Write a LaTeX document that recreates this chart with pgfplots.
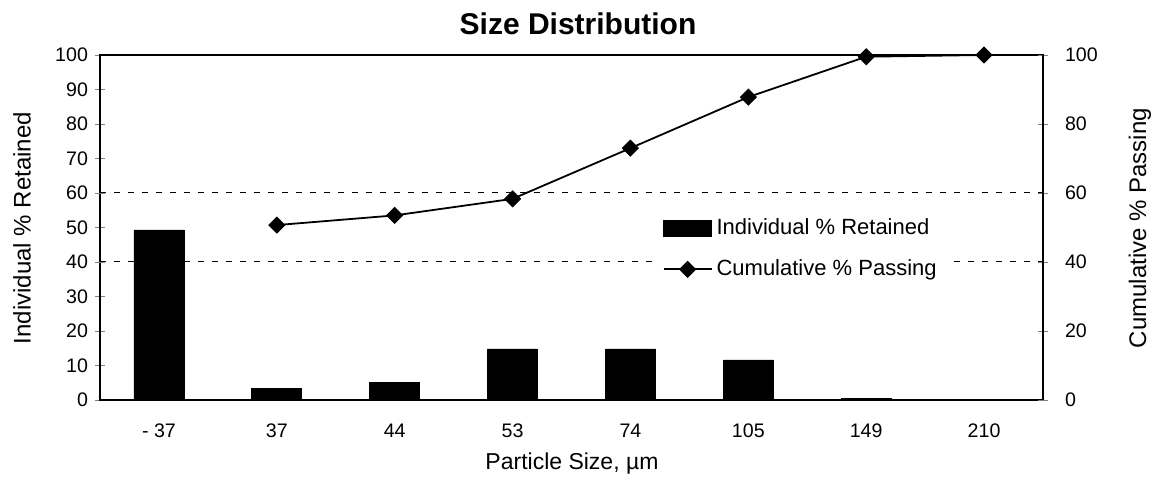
\documentclass[border=0pt]{standalone}
\usepackage{fontspec}
\setmainfont{Liberation Sans}
\usepackage{pgfplots}
\pgfplotsset{compat=1.18}
\pgfplotsset{my line legend/.style={legend image code/.code={\draw[mark repeat=2, mark phase=2, ##1] plot coordinates {(0pt,0pt) (12pt,0pt) (24pt,0pt)};}}}
\begin{document}
\begin{tikzpicture}
\useasboundingbox (-50pt,-45pt) rectangle (527.5pt,200pt);
\begin{axis}[
  scale only axis, width=471.5pt, height=172.5pt,
  at={(0pt,0pt)}, anchor=south west,
  xmin=-0.5, xmax=7.5, ymin=0, ymax=100,
  xtick={0,...,7},
  xticklabels={- 37,37,44,53,74,105,149,210},
  ytick={0,10,...,100},
  ytick pos=left, xtick pos=bottom,
  major x tick style={draw=none},
  tick align=center, major tick length=5pt,
  axis line style={line width=0.8pt},
  /pgf/number format/assume math mode=true,
  tick label style={font=\fontsize{9.8}{11}\selectfont},
  xticklabel style={yshift=-6pt},
  extra y ticks={40,60}, extra y tick labels={},
  extra y tick style={grid=major, major grid style={black, line width=0.5pt, dash pattern=on 3pt off 4pt}},
  legend style={at={(0.59,0.555)}, anchor=north west, draw=none, fill=white,
    font=\fontsize{11}{13}\selectfont, row sep=7pt, inner sep=3pt},
  legend cell align=left,
]
\addplot[ybar, bar width=25pt, fill=black, draw=black,
  legend image code/.code={\fill[black] (0pt,-4pt) rectangle (24pt,4pt);}]
  coordinates {(0,49.3) (1,3.4) (2,5) (3,14.8) (4,14.8) (5,11.6) (6,0.5) (7,0)};
\addlegendentry{Individual \% Retained}
\addplot[black, line width=0.9pt, mark=square*, mark size=2.6pt, mark options={rotate=45, solid},
  my line legend]
  coordinates {(1,50.7) (2,53.5) (3,58.3) (4,73) (5,87.8) (6,99.5) (7,100)};
\addlegendentry{Cumulative \% Passing}
\end{axis}
\begin{axis}[
  scale only axis, width=471.5pt, height=172.5pt,
  at={(0pt,0pt)}, anchor=south west,
  xmin=-0.5, xmax=7.5, ymin=0, ymax=100,
  axis x line=none, axis y line*=right,
  ytick={0,20,...,100},
  tick align=center, major tick length=5pt,
  axis line style={line width=0.8pt},
  /pgf/number format/assume math mode=true,
  tick label style={font=\fontsize{9.8}{11}\selectfont},
  yticklabel style={xshift=5pt},
]
\addplot[draw=none] coordinates {(0,0)};
\end{axis}
\node[font=\bfseries\fontsize{15}{18}\selectfont] at (239pt,188pt) {Size Distribution};
\node[font=\fontsize{11.5}{14}\selectfont] at (236pt,-32pt) {Particle Size, µm};
\node[font=\fontsize{12}{14}\selectfont, rotate=90] at (-39pt,86pt) {Individual \% Retained};
\node[font=\fontsize{12}{14}\selectfont, rotate=90] at (520pt,86pt) {Cumulative \% Passing};
\end{tikzpicture}
\end{document}
